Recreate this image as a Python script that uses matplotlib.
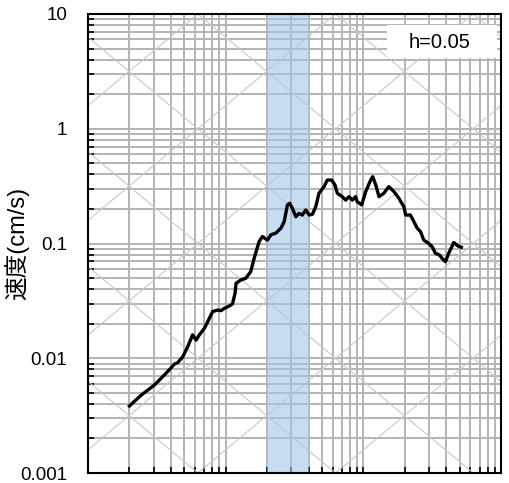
import numpy as np
import matplotlib
matplotlib.use("Agg")
import matplotlib.pyplot as plt
from matplotlib.patches import Rectangle
from matplotlib.ticker import LogLocator, NullFormatter, FixedLocator, FixedFormatter

plt.rcParams['font.family'] = ['Liberation Sans', 'Noto Sans CJK JP', 'DejaVu Sans']

# Period (s) and pseudo-velocity response (cm/s)
period = [0.0200, 0.0243, 0.0304, 0.0369, 0.0425, 0.0448, 0.0488, 0.0530, 0.0575, 0.0610,
          0.0644, 0.0700, 0.0740, 0.0804, 0.0873, 0.0925, 0.0977, 0.106, 0.112, 0.117,
          0.119, 0.129, 0.140, 0.152, 0.161, 0.175, 0.185, 0.201, 0.213, 0.231,
          0.252, 0.266, 0.281, 0.292, 0.305, 0.323, 0.341, 0.360, 0.382, 0.404,
          0.427, 0.451, 0.476, 0.518, 0.547, 0.589, 0.622, 0.647, 0.703, 0.745,
          0.787, 0.832, 0.879, 0.904, 0.973, 1.04, 1.13, 1.17, 1.23, 1.30,
          1.41, 1.53, 1.67, 1.81, 1.97, 2.03, 2.20, 2.33, 2.46, 2.60,
          2.75, 2.99, 3.16, 3.34, 3.57, 3.73, 3.95, 4.17, 4.54, 4.87, 5.15]
velocity = [0.00384, 0.00476, 0.00585, 0.00740, 0.00891, 0.00915, 0.0103, 0.0126, 0.0160, 0.0144,
            0.0160, 0.0182, 0.0208, 0.0255, 0.0263, 0.0260, 0.0272, 0.0285, 0.0297, 0.0368,
            0.0450, 0.0481, 0.0498, 0.0568, 0.0743, 0.104, 0.115, 0.107, 0.119, 0.123,
            0.136, 0.155, 0.217, 0.224, 0.203, 0.171, 0.183, 0.177, 0.196, 0.177,
            0.180, 0.209, 0.274, 0.313, 0.357, 0.357, 0.324, 0.274, 0.256, 0.239,
            0.256, 0.239, 0.256, 0.231, 0.217, 0.283, 0.357, 0.382, 0.324, 0.256,
            0.274, 0.313, 0.283, 0.248, 0.209, 0.177, 0.177, 0.155, 0.136, 0.127,
            0.107, 0.100, 0.0938, 0.0822, 0.0794, 0.0743, 0.0694, 0.0822, 0.102, 0.0951, 0.0927]

band = [0.2, 0.4]
disp_lines = [1e-5, 1e-4, 1e-3, 1e-2, 1e-1, 1, 10, 100]      # cm
acc_lines = [0.01, 0.1, 1, 10, 100, 1000, 10000, 100000]   # cm/s^2
ytick_vals = [0.001, 0.01, 0.1, 1, 10]
ytick_labels = ['0.001', '0.01', '0.1', '1', '10']
label_text = 'h=0.05'
ylabel = '速度(cm/s)'

fig = plt.figure(figsize=(5.09, 4.83), dpi=100)
ax = fig.add_axes([88/509, 10/483, 413/509, 459/483])
ax.set_xscale('log')
ax.set_yscale('log')
ax.set_xlim(0.01, 10)
ax.set_ylim(0.001, 10)

grid_col = '#b3b3b3'
ax.grid(True, which='both', color=grid_col, lw=1.4, zorder=1)

# tripartite diagonals
tt = np.logspace(-3, 2, 50)
for d in disp_lines:
    ax.plot(tt, 2*np.pi*d/tt, color='#c8c8c8', lw=0.8, zorder=1.6)
for a in acc_lines:
    ax.plot(tt, a*tt/(2*np.pi), color='#c8c8c8', lw=0.8, zorder=1.6)

ax.axvspan(band[0], band[1], color='#a3c6e6', alpha=0.6, lw=0, zorder=2)

ax.plot(period, velocity, color='black', lw=2.4, zorder=5)

ax.add_patch(Rectangle((0.724, 0.904), 0.266, 0.072, transform=ax.transAxes,
                       facecolor='white', edgecolor='none', zorder=4))
ax.text(0.852, 0.937, label_text, transform=ax.transAxes, ha='center', va='center',
        fontsize=14.5, zorder=6)

ax.yaxis.set_major_locator(FixedLocator(ytick_vals))
ax.yaxis.set_major_formatter(FixedFormatter(ytick_labels))
ax.yaxis.set_minor_locator(LogLocator(base=10, subs=np.arange(2, 10), numticks=20))
ax.yaxis.set_minor_formatter(NullFormatter())
ax.xaxis.set_major_locator(LogLocator(base=10, numticks=10))
ax.xaxis.set_minor_locator(LogLocator(base=10, subs=np.arange(2, 10), numticks=20))
ax.xaxis.set_major_formatter(NullFormatter())
ax.xaxis.set_minor_formatter(NullFormatter())

ax.tick_params(which='both', direction='in', top=False, right=False, color='black')
ax.tick_params(axis='y', which='major', length=0, pad=15, labelsize=13.5)
ax.tick_params(axis='y', which='minor', length=4, width=1.2)
ax.tick_params(axis='x', which='both', length=4, width=1.2)
for s in ax.spines.values():
    s.set_linewidth(1.5)
    s.set_color('black')
    s.set_zorder(7)

ax.set_ylabel(ylabel, fontsize=17)
ax.yaxis.set_label_coords(-0.143, 0.5)

fig.savefig('out.png', dpi=100)
